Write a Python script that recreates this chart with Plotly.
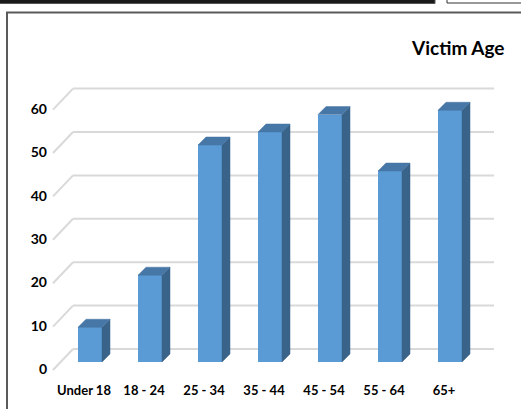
import plotly.graph_objects as go

# ---- data ----
categories = ["Under 18", "18 - 24", "25 - 34", "35 - 44", "45 - 54", "55 - 64", "65+"]
victims = [8, 20, 50, 53, 57, 44, 58]
y_ticks = [0, 10, 20, 30, 40, 50, 60]
title_text = "Victim Age"

# ---- geometry (pixel space of a 521x409 page) ----
W, H = 521, 409
X0_PX, X_STEP = 90.0, 60.0          # centre of first category, px per category
Y0_PX, Y_STEP = 362.0, 4.34         # bar baseline px, px per unit
BAR_W = 0.4
DX, DY = 8 / X_STEP, 8 / Y_STEP     # bar depth offsets in axis units

xr = [(0 - X0_PX) / X_STEP, (W - X0_PX) / X_STEP]
yr = [(Y0_PX - H) / Y_STEP, Y0_PX / Y_STEP]

FRONT_C = "#5b9bd5"
SIDE_C = "#3a6389"
TOP_C = "#4777a6"
GRID_C = "#d9d9d9"
FONT = "Lato, 'Open Sans', sans-serif"

idx = list(range(len(categories)))
fig = go.Figure()

# back wall grid lines and floor diagonals (derived from tick values) as below-layer shapes
back_x0, back_x1 = (73 - X0_PX) / X_STEP, (494 - X0_PX) / X_STEP
front_x = (53 - X0_PX) / X_STEP
back_dy = 13 / Y_STEP
front_dy = -8 / Y_STEP
grid_shapes = []
for v in y_ticks:
    grid_shapes.append(dict(type="line", xref="x", yref="y", x0=front_x, y0=v + front_dy,
                            x1=back_x0, y1=v + back_dy, line=dict(color=GRID_C, width=2), layer="below"))
    grid_shapes.append(dict(type="line", xref="x", yref="y", x0=back_x0, y0=v + back_dy,
                            x1=back_x1, y1=v + back_dy, line=dict(color=GRID_C, width=2), layer="below"))

# front faces
fig.add_trace(go.Bar(x=idx, y=victims, width=BAR_W, marker=dict(color=FRONT_C, line=dict(width=0)),
                     showlegend=False))

# side faces
sx, sy = [], []
for i, v in zip(idx, victims):
    r = i + BAR_W / 2
    sx += [r, r + DX, r + DX, r, r, None]
    sy += [0, DY, v + DY, v, 0, None]
fig.add_trace(go.Scatter(x=sx, y=sy, mode="lines", fill="toself", fillcolor=SIDE_C,
                         line=dict(color=SIDE_C, width=0.5), hoverinfo="skip", showlegend=False))

# top faces
tx, ty = [], []
for i, v in zip(idx, victims):
    l, r = i - BAR_W / 2, i + BAR_W / 2
    tx += [l, l + DX, r + DX, r, l, None]
    ty += [v, v + DY, v + DY, v, v, None]
fig.add_trace(go.Scatter(x=tx, y=ty, mode="lines", fill="toself", fillcolor=TOP_C,
                         line=dict(color=TOP_C, width=0.5), hoverinfo="skip", showlegend=False))

# invisible traces to activate label axes
fig.add_trace(go.Scatter(x=[None], y=[None], xaxis="x2", yaxis="y", showlegend=False, hoverinfo="skip"))
fig.add_trace(go.Scatter(x=[None], y=[None], xaxis="x", yaxis="y2", showlegend=False, hoverinfo="skip"))

lab_step = 4.333
lab0 = 369.0
fig.update_layout(
    width=W, height=H,
    margin=dict(l=0, r=0, t=0, b=0),
    paper_bgcolor="white", plot_bgcolor="rgba(0,0,0,0)",
    bargap=0,
    xaxis=dict(domain=[0, 1], range=xr, showgrid=False, zeroline=False, showticklabels=False,
               ticks="", showline=False, fixedrange=True),
    yaxis=dict(domain=[0, 1], range=yr, showgrid=False, zeroline=False, showticklabels=False,
               ticks="", showline=False, fixedrange=True),
    xaxis2=dict(overlaying="x", anchor="free", position=(H - 381) / H, side="bottom",
                range=xr, tickmode="array", tickvals=[i - 0.1 for i in idx], ticktext=categories,
                showgrid=False, zeroline=False, showline=False, ticks="", fixedrange=True,
                tickfont=dict(family=FONT, size=13, color="black", weight="bold")),
    yaxis2=dict(overlaying="y", anchor="free", position=47 / W, side="left",
                range=[(lab0 - H) / lab_step, lab0 / lab_step], fixedrange=True,
                tickmode="array", tickvals=y_ticks, ticktext=[str(t) for t in y_ticks],
                showgrid=False, zeroline=False, showline=False, ticks="",
                tickfont=dict(family=FONT, size=14, color="black", weight="bold")),
    annotations=[dict(text=title_text, xref="paper", yref="paper", x=507 / W, y=(H - 47) / H,
                      xanchor="right", yanchor="middle", showarrow=False,
                      font=dict(family=FONT, size=19, color="black", weight="bold"))],
    shapes=grid_shapes + [
        dict(type="rect", xref="paper", yref="paper", x0=-0.01, x1=435 / W, y0=(H - 3.5) / H, y1=1.02,
             fillcolor="#1a1a1a", line=dict(color="#555555", width=1), layer="above"),
        dict(type="rect", xref="paper", yref="paper", x0=447 / W, x1=1.02, y0=(H - 3) / H, y1=1.02,
             fillcolor="white", line=dict(color="#333333", width=1), layer="above"),
        dict(type="rect", xref="paper", yref="paper", x0=7 / W, x1=1.05, y0=-0.05, y1=(H - 12.5) / H,
             fillcolor="rgba(0,0,0,0)", line=dict(color="#5a5a5a", width=2), layer="above"),
    ],
)

fig.write_html("out.html", config={"displayModeBar": False},
               post_script="document.body.style.margin='0';document.body.style.overflow='hidden';")
